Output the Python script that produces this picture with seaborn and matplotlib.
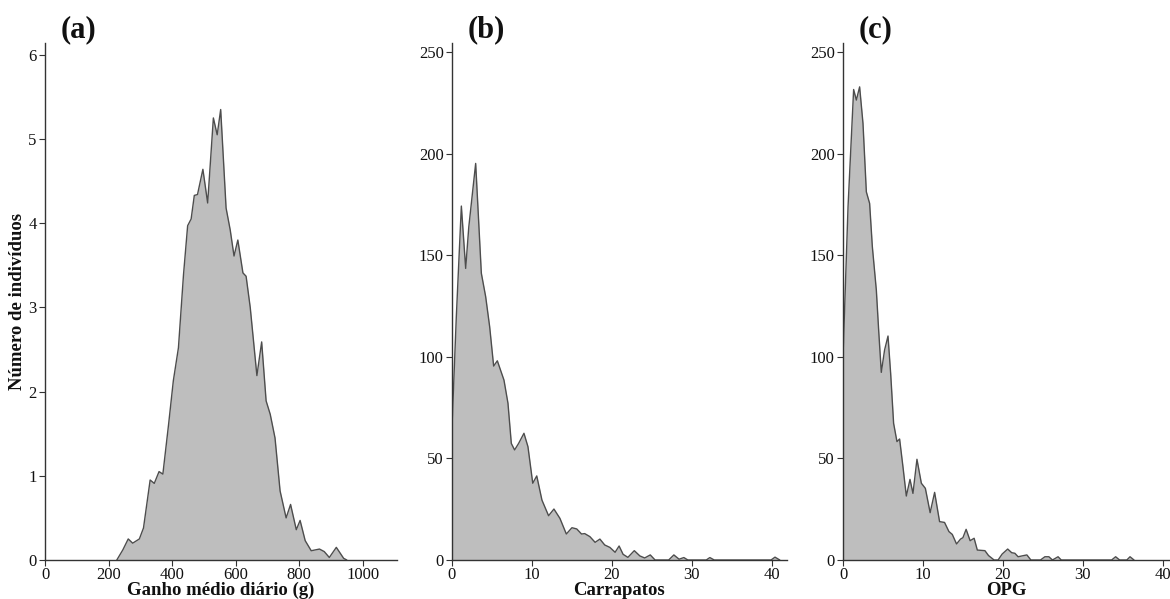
import matplotlib
matplotlib.use('Agg')
import matplotlib.pyplot as plt
import seaborn as sns
import pandas as pd

# curves (a) ganho medio diario, (b) carrapatos, (c) OPG
ganho_x = [226, 245, 262, 276, 297, 310, 331, 344, 359, 371, 389, 404, 420, 436, 449, 460, 470, 480,
           497, 512, 530, 542, 553, 570, 583, 595, 607, 623, 633, 646, 667, 682, 696, 709, 724,
           740, 759, 773, 791, 803, 819, 838, 864, 879, 895, 917, 940, 950]
ganho_y = [0, 0.12, 0.25, 0.20, 0.25, 0.38, 0.95, 0.91, 1.05, 1.02, 1.61, 2.13, 2.52, 3.39, 3.97, 4.05,
           4.33, 4.34, 4.64, 4.24, 5.25, 5.05, 5.35, 4.18, 3.92, 3.61, 3.80, 3.41, 3.37, 3.0, 2.19,
           2.59, 1.89, 1.73, 1.45, 0.82, 0.50, 0.66, 0.36, 0.47, 0.23, 0.11, 0.13, 0.10, 0.03,
           0.15, 0.02, 0]

carr_x = [0, 0.54, 1.17, 1.71, 2.1, 2.96, 3.67, 4.21, 4.71, 5.21, 5.67, 6.5, 7.0, 7.42, 7.83, 8.33,
          9.0, 9.5, 10.1, 10.6, 11.25, 12.08, 12.75, 13.5, 14.3, 15.0, 15.6, 16.2, 16.6, 17.25,
          17.9, 18.5, 19.1, 19.75, 20.4, 20.9, 21.4, 22.0, 22.8, 23.5, 24.1, 24.8, 25.4, 27.1,
          27.75, 28.4, 29.0, 29.5, 31.8, 32.25, 32.8, 39.9, 40.4, 41.0]
carr_y = [65.6, 119.8, 174.3, 143.6, 164.0, 195.3, 141.2, 129.7, 114.9, 95.5, 98.1, 88.6, 77.2, 57.4,
          54.2, 57.4, 62.4, 55.8, 37.8, 41.4, 29.5, 21.8, 25.1, 20.5, 12.8, 15.9, 15.3, 12.8, 13.0,
          11.5, 8.7, 10.3, 7.4, 6.2, 3.8, 6.9, 2.8, 1.3, 4.6, 2.0, 1.0, 2.5, 0, 0, 2.5, 0.4, 1.2,
          0, 0, 1.2, 0, 0, 1.4, 0]

opg_x = [0, 0.63, 1.33, 1.67, 2.08, 2.5, 2.92, 3.33, 3.67, 4.17, 4.46, 4.79, 5.2, 5.63, 5.96, 6.33,
         6.75, 7.08, 7.5, 7.92, 8.38, 8.75, 9.25, 9.8, 10.3, 10.9, 11.46, 12.08, 12.7, 13.25,
         13.67, 14.2, 14.7, 15.0, 15.4, 15.9, 16.4, 16.8, 17.75, 18.2, 18.9, 19.4, 19.9, 20.6,
         21.1, 21.5, 21.9, 22.5, 23.0, 23.5, 24.7, 25.25, 25.75, 26.2, 26.9, 27.3, 33.6, 34.1,
         34.6, 35.5, 35.9, 36.4]
opg_y = [100, 174, 231.7, 226.5, 233, 215, 181.3, 175.6, 154.3, 132.9, 113.2, 92.4, 103.4, 110.3,
         91.9, 67.3, 58.3, 59.6, 45.9, 31.5, 39.7, 32.8, 49.6, 37.8, 35.3, 23.3, 33.3, 18.9, 18.5,
         14.0, 12.6, 7.9, 10.3, 11, 15.1, 9.5, 10.7, 4.9, 4.6, 2.2, 0, 0, 2.9, 5.4, 3.6, 3.3, 1.6,
         2.1, 2.5, 0, 0, 1.6, 1.6, 0, 1.6, 0, 0, 1.6, 0, 0, 1.6, 0]

panel_letters = ['(a)', '(b)', '(c)']
x_labels = ['Ganho médio diário (g)', 'Carrapatos', 'OPG']
y_label = 'Número de indivíduos'

sns.set_theme(style='ticks')
plt.rcParams['font.family'] = ['Liberation Serif', 'DejaVu Serif']

fig = plt.figure(figsize=(11.7, 5.99), dpi=100)
W, H = 1170, 599
# axes boxes in pixels: left, right
boxes = [(45, 397), (452, 787), (843, 1170)]
top_px, bot_px = 43, 560
ax_h = bot_px - top_px

panels = [
    (ganho_x, ganho_y, (0, 1108), (0, 6.14), [0, 200, 400, 600, 800, 1000], [0, 1, 2, 3, 4, 5, 6]),
    (carr_x, carr_y, (0, 41.9), (0, 254.6), [0, 10, 20, 30, 40], [0, 50, 100, 150, 200, 250]),
    (opg_x, opg_y, (0, 40.9), (0, 254.6), [0, 10, 20, 30, 40], [0, 50, 100, 150, 200, 250]),
]

for i, (xs, ys, xlim, ylim, xt, yt) in enumerate(panels):
    l, r = boxes[i]
    ax = fig.add_axes([l / W, 1 - bot_px / H, (r - l) / W, ax_h / H])
    df = pd.DataFrame({'x': xs, 'y': ys})
    ax.fill_between(df['x'], 0, df['y'], color='#bebebe', linewidth=0)
    sns.lineplot(data=df, x='x', y='y', ax=ax, color='#4d4d4d', linewidth=1.0, sort=False)
    ax.set_xlim(*xlim)
    ax.set_ylim(*ylim)
    ax.set_xticks(xt)
    ax.set_yticks(yt)
    for s in ['top', 'right']:
        ax.spines[s].set_visible(False)
    for s in ['left', 'bottom']:
        ax.spines[s].set_color('#333333')
        ax.spines[s].set_linewidth(1.0)
    ax.tick_params(axis='both', length=4, width=0.8, color='#333333', labelsize=12,
                   labelcolor='#111111', pad=2)
    ax.tick_params(axis='x', pad=1)
    ax.set_xlabel(x_labels[i], fontsize=13.5, fontweight='bold', color='#111111')
    ax.xaxis.set_label_coords(0.5, -22 / ax_h)
    if i == 0:
        ax.set_ylabel(y_label, fontsize=13.5, fontweight='bold', color='#111111')
        ax.yaxis.set_label_coords(-19 / (r - l), 0.5)
    else:
        ax.set_ylabel('')
    ax.annotate(panel_letters[i], xy=(0, 1), xycoords='axes fraction',
                xytext=(16, 13), textcoords='offset pixels',
                ha='left', va='center', fontsize=22, fontweight='bold', color='#111111')
    ax.set_facecolor('white')

fig.savefig('out.png', dpi=100, facecolor='white')
